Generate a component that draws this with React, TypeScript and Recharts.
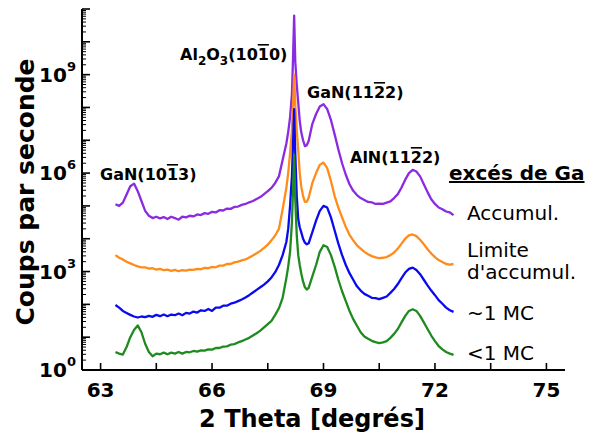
import { LineChart, Line, XAxis, YAxis } from "recharts";

// 2θ grid (degrees) shared by the four scans
const TWO_THETA = [
  63.4, 63.5, 63.6, 63.7, 63.8, 63.9, 64.0, 64.1, 64.2, 64.3,
  64.4, 64.5, 64.6, 64.7, 64.8, 64.9, 65.0, 65.1, 65.2, 65.3,
  65.4, 65.5, 65.6, 65.7, 65.8, 65.9, 66.0, 66.1, 66.2, 66.3,
  66.4, 66.5, 66.6, 66.7, 66.8, 66.9, 67.0, 67.1, 67.2, 67.3,
  67.4, 67.5, 67.6, 67.7, 67.8, 67.9,
  68.0, 68.05, 68.1, 68.15, 68.18, 68.21, 68.24, 68.28, 68.32, 68.36, 68.4, 68.45, 68.5, 68.55, 68.6,
  68.7, 68.8, 68.9, 69.0, 69.1, 69.2, 69.3, 69.4, 69.5, 69.6,
  69.7, 69.8, 69.9, 70.0, 70.1, 70.2, 70.3, 70.4, 70.5, 70.6,
  70.7, 70.8, 70.9, 71.0, 71.1, 71.2, 71.3, 71.4, 71.5, 71.6,
  71.7, 71.8, 71.9, 72.0, 72.1, 72.2, 72.3, 72.4, 72.5,
];

// log10(coups par seconde)
const ACCUMUL = [
  5.05, 5.0, 5.1, 5.35, 5.6, 5.68, 5.45, 5.15, 4.85, 4.7,
  4.63, 4.67, 4.62, 4.66, 4.6, 4.67, 4.63, 4.58, 4.67, 4.65,
  4.7, 4.68, 4.74, 4.72, 4.78, 4.76, 4.82, 4.8, 4.87, 4.86,
  4.92, 4.91, 4.97, 4.98, 5.03, 5.06, 5.11, 5.15, 5.21, 5.27,
  5.36, 5.45, 5.55, 5.7, 5.9, 6.4,
  6.9, 7.25, 7.7, 8.4, 9.5, 10.8, 9.4, 8.7, 8.15, 7.6, 7.25, 7.0, 6.82, 6.85, 6.98,
  7.5, 7.8, 8.03, 8.1, 7.95, 7.62, 7.18, 6.72, 6.3, 5.95,
  5.66, 5.46, 5.33, 5.24, 5.18, 5.12, 5.11, 5.06, 5.07, 5.06,
  5.1, 5.14, 5.24, 5.36, 5.56, 5.8, 6.0, 6.1, 6.05, 5.9,
  5.66, 5.42, 5.2, 5.06, 4.95, 4.9, 4.83, 4.8, 4.72,
];

const LIMITE = [
  3.5, 3.42, 3.37, 3.3, 3.25, 3.2, 3.16, 3.13, 3.13, 3.09,
  3.1, 3.06, 3.08, 3.04, 3.06, 3.02, 3.05, 3.01, 3.04, 3.03,
  3.06, 3.05, 3.08, 3.07, 3.11, 3.1, 3.14, 3.13, 3.18, 3.18,
  3.23, 3.23, 3.28, 3.3, 3.34, 3.37, 3.43, 3.49, 3.56, 3.63,
  3.72, 3.82, 3.95, 4.1, 4.3, 4.9,
  5.55, 6.0, 6.6, 7.3, 8.1, 9.0, 8.1, 7.3, 6.7, 6.0, 5.6, 5.3, 5.12, 5.13, 5.25,
  5.7, 6.0, 6.25, 6.32, 6.15, 5.76, 5.3, 4.95, 4.65, 4.36,
  4.12, 3.95, 3.8, 3.7, 3.6, 3.53, 3.47, 3.43, 3.41, 3.42,
  3.44, 3.5, 3.58, 3.7, 3.85, 4.0, 4.1, 4.13, 4.08, 3.97,
  3.83, 3.68, 3.55, 3.44, 3.35, 3.29, 3.23, 3.21, 3.23,
];

const UNE_MC = [
  1.98, 1.9, 1.8, 1.74, 1.68, 1.63, 1.6, 1.63, 1.61, 1.65,
  1.62, 1.68, 1.64, 1.69, 1.64, 1.69, 1.67, 1.72, 1.67, 1.74,
  1.72, 1.78, 1.75, 1.82, 1.8, 1.86, 1.8, 1.9, 1.9, 1.96,
  1.96, 2.02, 2.05, 2.1, 2.15, 2.21, 2.28, 2.36, 2.44, 2.52,
  2.6, 2.7, 2.82, 2.98, 3.2, 3.5,
  3.9, 4.3, 5.0, 5.9, 6.9, 7.95, 6.6, 5.3, 4.6, 4.35, 4.2, 4.0, 3.88, 3.83, 3.86,
  4.2, 4.55, 4.85, 5.0, 4.95, 4.65, 4.25, 3.85, 3.5, 3.2,
  2.95, 2.75, 2.55, 2.42, 2.32, 2.26, 2.2, 2.19, 2.16, 2.2,
  2.24, 2.35, 2.47, 2.62, 2.8, 2.97, 3.08, 3.12, 3.05, 2.92,
  2.75, 2.58, 2.42, 2.28, 2.13, 2.02, 1.9, 1.82, 1.77,
];

const MOINS_MC = [
  0.55, 0.5, 0.47, 0.7, 1.0, 1.22, 1.36, 1.15, 0.8, 0.55,
  0.42, 0.5, 0.48, 0.53, 0.48, 0.53, 0.5, 0.55, 0.5, 0.55,
  0.54, 0.58, 0.56, 0.6, 0.59, 0.63, 0.62, 0.67, 0.67, 0.71,
  0.72, 0.77, 0.79, 0.84, 0.88, 0.93, 0.98, 1.05, 1.12, 1.2,
  1.3, 1.4, 1.5, 1.68, 1.88, 2.2,
  2.8, 3.15, 3.6, 4.5, 5.5, 6.55, 5.2, 4.1, 3.5, 3.2, 2.95, 2.7, 2.52, 2.45, 2.5,
  2.85, 3.2, 3.6, 3.8, 3.75, 3.5, 3.15, 2.75, 2.4, 2.1,
  1.8, 1.55, 1.35, 1.15, 1.02, 0.95, 0.89, 0.85, 0.82, 0.84,
  0.88, 0.98, 1.1, 1.25, 1.45, 1.65, 1.8, 1.85, 1.8, 1.65,
  1.45, 1.25, 1.05, 0.88, 0.73, 0.63, 0.55, 0.5, 0.46,
];

const X_TICKS = [63, 64.5, 66, 67.5, 69, 70.5, 72, 73.5, 75];
const X_LABELS = [63, 66, 69, 72, 75];
const DECADES = [0, 1, 2, 3, 4, 5, 6, 7, 8, 9, 10, 11];
const MINOR_STEPS = [2, 3, 4, 5, 6, 7, 8, 9];
const Y_LABELS = [0, 3, 6, 9];

const SERIES = [
  { key: "accumul", color: "#8a2be2", values: ACCUMUL },
  { key: "limite", color: "#ff8c1a", values: LIMITE },
  { key: "uneMc", color: "#0a0af0", values: UNE_MC },
  { key: "moinsMc", color: "#1f8a1f", values: MOINS_MC },
];

const data = TWO_THETA.map((x, i) => {
  const row: Record<string, number> = { x };
  SERIES.forEach((s) => {
    row[s.key] = Math.pow(10, s.values[i]);
  });
  return row;
});

const yTicks = DECADES.flatMap((d) =>
  d < 11 ? [Math.pow(10, d), ...MINOR_STEPS.map((m) => m * Math.pow(10, d))] : [Math.pow(10, d)]
);

const FONT = "'DejaVu Sans', Verdana, sans-serif";

function YTick(props: any) {
  const { x, y, payload } = props;
  const lg = Math.log10(payload.value);
  const e = Math.round(lg);
  const major = Math.abs(lg - e) < 1e-6;
  return (
    <g>
      <line x1={x} x2={x + (major ? 8 : 4)} y1={y} y2={y} stroke="#000" strokeWidth={major ? 1.6 : 1} />
      {major && Y_LABELS.includes(e) && (
        <text x={x - 6} y={y + 7} textAnchor="end" fontFamily={FONT} fontWeight="bold" fontSize={20} fill="#000">
          10<tspan dy={-11} fontSize={13}>{e}</tspan>
        </text>
      )}
    </g>
  );
}

function XTickBottom(props: any) {
  const { x, y, payload } = props;
  return (
    <g>
      <line x1={x} x2={x} y1={y} y2={y - 7} stroke="#000" strokeWidth={1.6} />
      {X_LABELS.includes(payload.value) && (
        <text x={x} y={y + 27} textAnchor="middle" fontFamily={FONT} fontWeight="bold" fontSize={20} fill="#000">
          {payload.value}
        </text>
      )}
    </g>
  );
}

function XTickTop(props: any) {
  const { x, y } = props;
  return <line x1={x} x2={x} y1={y} y2={y + 7} stroke="#000" strokeWidth={1.6} />;
}

export default function App() {
  const bold = { fontFamily: FONT, fontWeight: "bold" as const, fill: "#000" };
  const plain = { fontFamily: FONT, fill: "#000", fontSize: 20 };
  return (
    <div style={{ position: "absolute", left: 0, top: 0, width: 592, height: 437, background: "#fff" }}>
      <LineChart width={592} height={437} data={data} margin={{ top: 9, right: 27, bottom: 7, left: 0 }}>
        <XAxis
          dataKey="x"
          type="number"
          domain={[62.5, 75.5]}
          allowDataOverflow
          ticks={X_TICKS}
          interval={0}
          height={60}
          tickSize={0}
          tickMargin={0}
          tickLine={false}
          axisLine={{ stroke: "#000", strokeWidth: 2 }}
          tick={<XTickBottom />}
        />
        <XAxis
          xAxisId="top"
          orientation="top"
          dataKey="x"
          type="number"
          domain={[62.5, 75.5]}
          allowDataOverflow
          ticks={X_TICKS}
          interval={0}
          height={0}
          tickSize={0}
          tickMargin={0}
          tickLine={false}
          axisLine={{ stroke: "#000", strokeWidth: 2 }}
          tick={<XTickTop />}
        />
        <YAxis
          scale="log"
          domain={[1, 1e11]}
          allowDataOverflow
          ticks={yTicks}
          interval={0}
          width={82}
          tickSize={0}
          tickMargin={0}
          tickLine={false}
          axisLine={{ stroke: "#000", strokeWidth: 2 }}
          tick={<YTick />}
        />
        <YAxis
          yAxisId="right"
          orientation="right"
          width={0}
          tick={false}
          tickLine={false}
          axisLine={{ stroke: "#000", strokeWidth: 2 }}
        />
        {SERIES.map((s) => (
          <Line
            key={s.key}
            dataKey={s.key}
            type="linear"
            stroke={s.color}
            strokeWidth={2.3}
            strokeLinejoin="round"
            dot={false}
            isAnimationActive={false}
          />
        ))}
      </LineChart>
      <svg width={592} height={437} style={{ position: "absolute", left: 0, top: 0, pointerEvents: "none" }}>
        <text transform="translate(34,192) rotate(-90)" textAnchor="middle" fontSize={25} {...bold}>
          Coups par seconde
        </text>
        <text x={312} y={427} textAnchor="middle" fontSize={24} {...bold}>
          2 Theta [degrés]
        </text>
        <text x={100} y={180} fontSize={16} {...bold}>
          GaN(10<tspan style={{ textDecoration: "overline" }}>1</tspan>3)
        </text>
        <text x={180} y={60} fontSize={16} {...bold}>
          Al<tspan dy={5} fontSize={12}>2</tspan>
          <tspan dy={-5}>O</tspan>
          <tspan dy={5} fontSize={12}>3</tspan>
          <tspan dy={-5}>(10</tspan>
          <tspan style={{ textDecoration: "overline" }}>1</tspan>
          <tspan>0)</tspan>
        </text>
        <text x={307} y={98} fontSize={16} {...bold}>
          GaN(11<tspan style={{ textDecoration: "overline" }}>2</tspan>2)
        </text>
        <text x={350} y={163} fontSize={16} {...bold}>
          AlN(11<tspan style={{ textDecoration: "overline" }}>2</tspan>2)
        </text>
        <text x={449} y={180} fontSize={20} {...bold} style={{ textDecoration: "underline" }}>
          excés de Ga
        </text>
        <text x={467} y={220} {...plain}>Accumul.</text>
        <text x={467} y={257} {...plain}>Limite</text>
        <text x={467} y={279} {...plain}>d'accumul.</text>
        <text x={467} y={320} {...plain}>~1 MC</text>
        <text x={467} y={360} {...plain}>&lt;1 MC</text>
      </svg>
    </div>
  );
}
